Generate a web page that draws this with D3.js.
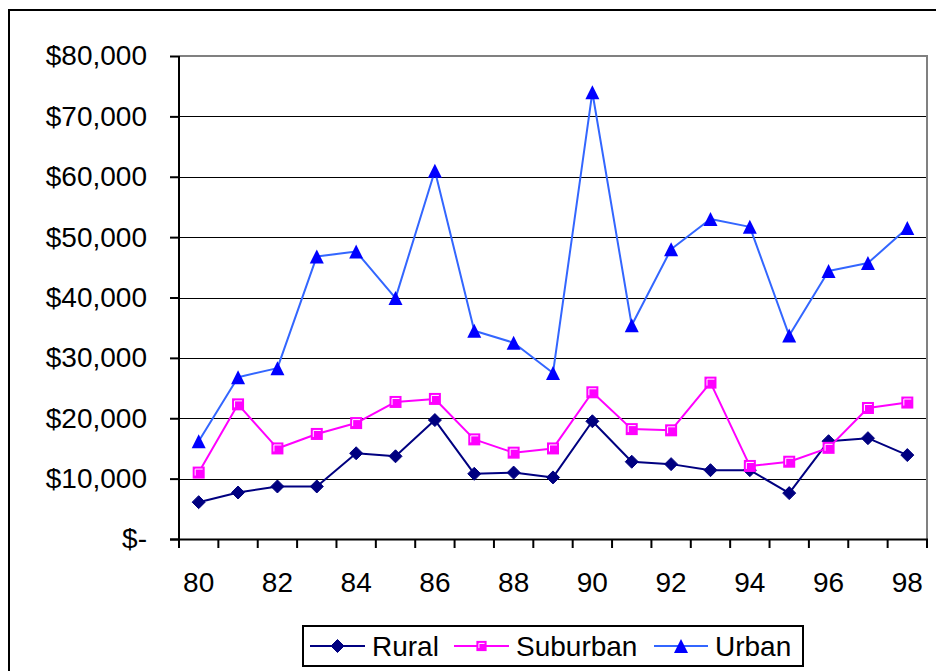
<!DOCTYPE html>
<html>
<head>
<meta charset="utf-8">
<script src="https://cdn.jsdelivr.net/npm/d3@7"></script>
<style>
  html, body { margin: 0; padding: 0; background: #fff; }
  svg { display: block; font-family: "Liberation Sans", Arial, sans-serif; }
</style>
</head>
<body>
<svg id="chart" width="936" height="671"></svg>
<script>
// Year categories (19 years, labels on even years only)
const years = ["80","81","82","83","84","85","86","87","88","89","90","91","92","93","94","95","96","97","98"];
const yearLabels = ["80","82","84","86","88","90","92","94","96","98"];

// Series values in dollars
const rural    = [6100, 7700, 8700, 8700, 14200, 13700, 19700, 10800, 11000, 10200, 19500, 12800, 12400, 11400, 11400, 7600, 16200, 16700, 13900];
const suburban = [11000, 22300, 15000, 17400, 19200, 22700, 23200, 16500, 14300, 15000, 24300, 18200, 18000, 25900, 12100, 12800, 15100, 21700, 22600];
const urban    = [16200, 26800, 28300, 46800, 47600, 39900, 61000, 34500, 32500, 27500, 74000, 35400, 48000, 53000, 51700, 33700, 44400, 45700, 51500];

const seriesNames = ["Rural", "Suburban", "Urban"];
const yTicks = [0, 10000, 20000, 30000, 40000, 50000, 60000, 70000, 80000];

const series = [
  { name: seriesNames[0], values: rural,    line: "#000080", fill: "#000080", marker: "diamond" },
  { name: seriesNames[1], values: suburban, line: "#FF00FF", fill: "#FF00FF", marker: "square" },
  { name: seriesNames[2], values: urban,    line: "#3366FF", fill: "#0000FF", marker: "triangle" }
];

const svg = d3.select("#chart");
const plot = { left: 179, right: 927, top: 56, bottom: 539 };

// Outer chart frame (runs past the right and bottom edges)
svg.append("rect")
  .attr("x", 9).attr("y", 10).attr("width", 1000).attr("height", 1000)
  .attr("fill", "#fff").attr("stroke", "#000").attr("stroke-width", 2);

const x = d3.scaleBand().domain(years).range([plot.left, plot.right]).padding(0);
const y = d3.scaleLinear().domain([0, 80000]).range([plot.bottom, plot.top]);

const fmt = v => v === 0 ? "$-" : "$" + d3.format(",")(v);

// Horizontal gridlines
svg.append("g")
  .selectAll("line")
  .data(yTicks.filter(v => v > 0 && v < 80000))
  .join("line")
  .attr("x1", plot.left).attr("x2", plot.right)
  .attr("y1", d => Math.round(y(d)) + 0.5).attr("y2", d => Math.round(y(d)) + 0.5)
  .attr("stroke", "#000").attr("stroke-width", 1);

// Plot area border (top and right in grey)
svg.append("path")
  .attr("d", `M${plot.left},${plot.top} H${plot.right} V${plot.bottom}`)
  .attr("fill", "none").attr("stroke", "#808080").attr("stroke-width", 2);

// Y axis
const yAxis = svg.append("g")
  .attr("transform", `translate(${plot.left},0)`)
  .call(d3.axisLeft(y).tickValues(yTicks).tickFormat(fmt).tickSize(9).tickPadding(23));
yAxis.select(".domain").remove();
yAxis.selectAll(".tick line").attr("stroke", "#000").attr("stroke-width", 2);
yAxis.selectAll(".tick text")
  .attr("font-size", 28).attr("fill", "#000")
  .attr("font-family", "'Liberation Sans', Arial, sans-serif");
svg.append("line")
  .attr("x1", plot.left).attr("x2", plot.left)
  .attr("y1", plot.top).attr("y2", plot.bottom + 9)
  .attr("stroke", "#000").attr("stroke-width", 2);

// X axis: labels centred on categories, tick marks on category boundaries
const xAxis = svg.append("g")
  .attr("transform", `translate(0,${plot.bottom})`)
  .call(d3.axisBottom(x).tickValues(yearLabels).tickSize(0).tickPadding(33));
xAxis.select(".domain").remove();
xAxis.selectAll(".tick text")
  .attr("font-size", 28).attr("fill", "#000")
  .attr("font-family", "'Liberation Sans', Arial, sans-serif");

const boundaries = years.map(d => x(d)).concat([x(years[years.length - 1]) + x.bandwidth()]);
svg.append("g")
  .selectAll("line")
  .data(boundaries)
  .join("line")
  .attr("x1", d => d).attr("x2", d => d)
  .attr("y1", plot.bottom).attr("y2", plot.bottom + 9)
  .attr("stroke", "#000").attr("stroke-width", 2);
svg.append("line")
  .attr("x1", plot.left - 9).attr("x2", plot.right + 1)
  .attr("y1", plot.bottom + 0.5).attr("y2", plot.bottom + 0.5)
  .attr("stroke", "#000").attr("stroke-width", 2);

// Marker shapes
function drawMarker(g, s, cx, cy, scale) {
  const k = scale || 1;
  if (s.marker === "diamond") {
    const r = 6.5 * k;
    g.append("path")
      .attr("d", `M${cx},${cy - r} L${cx + r},${cy} L${cx},${cy + r} L${cx - r},${cy} Z`)
      .attr("fill", s.fill).attr("stroke", s.fill).attr("stroke-width", 1);
  } else if (s.marker === "square") {
    const h = 6 * k;
    g.append("rect")
      .attr("x", cx - h).attr("y", cy - h).attr("width", 2 * h).attr("height", 2 * h)
      .attr("fill", s.fill);
    g.append("path")
      .attr("d", `M${cx - h + 2.5},${cy + h - 3} V${cy - h + 2.5} H${cx + h - 2}`)
      .attr("fill", "none").attr("stroke", "#fff").attr("stroke-width", 1);
  } else {
    const r = 7 * k;
    g.append("path")
      .attr("d", `M${cx},${cy - r} L${cx + r},${cy + r} L${cx - r},${cy + r} Z`)
      .attr("fill", s.fill);
  }
}

// Series lines and markers
const cx = d => x(d) + x.bandwidth() / 2;
const lineGen = (vals) => d3.line().x((d, i) => cx(years[i])).y(d => y(d))(vals);

series.forEach(s => {
  const g = svg.append("g");
  g.append("path")
    .attr("d", lineGen(s.values))
    .attr("fill", "none").attr("stroke", s.line).attr("stroke-width", 2)
    .attr("stroke-linejoin", "round");
  s.values.forEach((v, i) => drawMarker(g, s, cx(years[i]), y(v)));
});

// Legend
const legend = svg.append("g");
legend.append("rect")
  .attr("x", 303).attr("y", 626).attr("width", 500).attr("height", 40)
  .attr("fill", "#fff").attr("stroke", "#000").attr("stroke-width", 2);
const legendItems = [
  { x1: 310, x2: 365, tx: 372 },
  { x1: 454, x2: 509, tx: 516 },
  { x1: 654, x2: 708, tx: 715 }
];
series.forEach((s, i) => {
  const it = legendItems[i];
  const ly = 646;
  legend.append("line")
    .attr("x1", it.x1).attr("x2", it.x2).attr("y1", ly).attr("y2", ly)
    .attr("stroke", s.line).attr("stroke-width", 2);
  drawMarker(legend, s, (it.x1 + it.x2) / 2, ly, s.marker === "square" ? 0.85 : 1);
  legend.append("text")
    .attr("x", it.tx).attr("y", ly).attr("dy", "0.35em")
    .attr("font-size", 28).attr("fill", "#000")
    .text(s.name);
});
</script>
</body>
</html>
